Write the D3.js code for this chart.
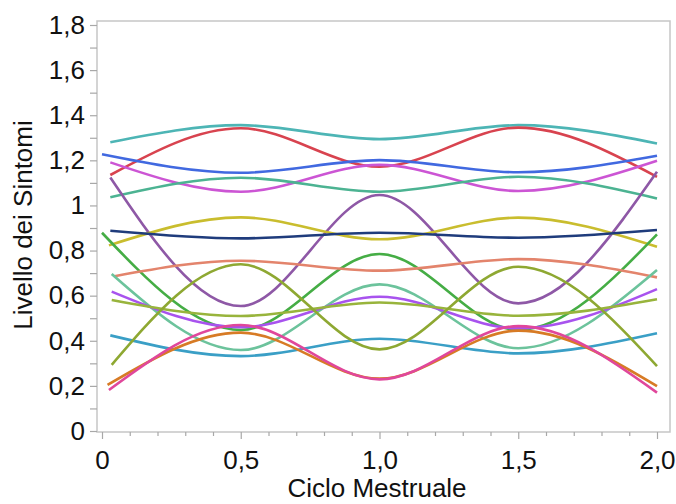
<!DOCTYPE html>
<meta charset="utf-8">

<!-- Load d3.js -->
<script src="https://d3js.org/d3.v7.min.js"></script>

<div id="my_dataviz"></div>

<style>
    body {
        margin: 0;
        background: #ffffff;
        font-family: 'Helvetica', 'Liberation Sans', 'Arial', sans-serif;
    }
</style>

<script>
    // x positions where the values were read (after the start point)
    var cycleX = [0.5, 1.0, 1.5, 2.0];

    // symptom curves: value at start, 0.5, 1.0, 1.5, 2.0
    var teal       = [1.280, 1.356, 1.294, 1.356, 1.275];
    var red        = [1.135, 1.342, 1.172, 1.345, 1.127];
    var blue       = [1.227, 1.145, 1.201, 1.147, 1.220];
    var magenta    = [1.191, 1.061, 1.180, 1.064, 1.198];
    var seaGreen   = [1.036, 1.123, 1.061, 1.127, 1.031];
    var purple     = [1.124, 0.554, 1.046, 0.566, 1.149];
    var yellow     = [0.823, 0.947, 0.850, 0.946, 0.817];
    var navy       = [0.888, 0.854, 0.879, 0.857, 0.891];
    var green      = [0.879, 0.448, 0.785, 0.448, 0.872];
    var salmon     = [0.686, 0.755, 0.711, 0.762, 0.681];
    var mint       = [0.696, 0.359, 0.650, 0.367, 0.714];
    var violet     = [0.618, 0.460, 0.595, 0.455, 0.629];
    var oliveFlat  = [0.581, 0.510, 0.570, 0.511, 0.584];
    var cyan       = [0.424, 0.332, 0.409, 0.344, 0.433];
    var oliveWave  = [0.293, 0.739, 0.362, 0.728, 0.288];
    var orange     = [0.204, 0.436, 0.232, 0.445, 0.199];
    var pink       = [0.182, 0.470, 0.229, 0.465, 0.170];

    var seriesNames  = ["teal", "red", "blue", "magenta", "seaGreen", "purple", "yellow", "navy", "green",
                        "salmon", "mint", "violet", "oliveFlat", "cyan", "oliveWave", "orange", "pink"];
    var seriesValues = [teal, red, blue, magenta, seaGreen, purple, yellow, navy, green,
                        salmon, mint, violet, oliveFlat, cyan, oliveWave, orange, pink];
    // where each curve begins on the x axis
    var startX       = [0.03, 0.03, 0, 0.03, 0.03, 0.03, 0.025, 0.03, 0,
                        0.045, 0.035, 0.035, 0.035, 0.03, 0.035, 0.02, 0.025];
    var seriesColors = ["#4db5b5", "#d8434f", "#4169e0", "#cc55d4", "#4cb392", "#8e58a6", "#c9bd2e", "#1f3c7c", "#45ad45",
                        "#e3846c", "#6cc39c", "#a853ee", "#98b43c", "#3a9fc6", "#8ea832", "#d77b25", "#e0479b"];

    // tick labels (Italian decimal comma)
    var yMajor = [0, 0.2, 0.4, 0.6, 0.8, 1.0, 1.2, 1.4, 1.6, 1.8];
    var yTickLabels = ["0", "0,2", "0,4", "0,6", "0,8", "1", "1,2", "1,4", "1,6", "1,8"];
    var xMajor = [0, 0.5, 1.0, 1.5, 2.0];
    var xTickLabels = ["0", "0,5", "1,0", "1,5", "2,0"];

    var width = 676, height = 504;

    var svg = d3.select("#my_dataviz")
        .append("svg")
        .attr("width", width)
        .attr("height", height);

    // scales
    var x = d3.scaleLinear().domain([0, 2]).range([102, 657]);
    var y = d3.scaleLinear().domain([0, 1.8]).range([431, 25]);

    // frame of the plot
    svg.append("rect")
        .attr("x", 97)
        .attr("y", 21)
        .attr("width", 573)
        .attr("height", 411)
        .attr("fill", "none")
        .attr("stroke", "#c6c6c6")
        .attr("stroke-width", 1.5);

    // minor ticks
    var yMinor = d3.range(1, 18, 2).map(function(i) { return i / 10; });
    var xMinor = d3.range(1, 20).map(function(i) { return i / 10; })
        .filter(function(v) { return xMajor.indexOf(v) < 0; });

    var yMinorAxis = svg.append("g")
        .attr("transform", "translate(97,0)")
        .call(d3.axisLeft(y).tickValues(yMinor).tickSize(7).tickFormat(""));
    var xMinorAxis = svg.append("g")
        .attr("transform", "translate(0,432)")
        .call(d3.axisBottom(x).tickValues(xMinor).tickSize(4).tickFormat(""));

    // major axes
    var yAxis = svg.append("g")
        .attr("transform", "translate(97,0)")
        .call(d3.axisLeft(y).tickValues(yMajor).tickSize(7).tickPadding(5)
            .tickFormat(function(d, i) { return yTickLabels[i]; }));
    var xAxis = svg.append("g")
        .attr("transform", "translate(0,432)")
        .call(d3.axisBottom(x).tickValues(xMajor).tickSize(7).tickPadding(12)
            .tickFormat(function(d, i) { return xTickLabels[i]; }));

    [yMinorAxis, xMinorAxis, yAxis, xAxis].forEach(function(g) {
        g.select(".domain").remove();
        g.selectAll(".tick line").attr("stroke", "#a8a8a8").attr("stroke-width", 1.2);
        g.selectAll(".tick text")
            .attr("fill", "#111")
            .style("font-family", "Helvetica, 'Liberation Sans', Arial, sans-serif")
            .style("font-size", "26px");
    });

    // axis titles
    svg.append("text")
        .attr("x", 377)
        .attr("y", 497)
        .attr("text-anchor", "middle")
        .attr("fill", "#111")
        .style("font-size", "26px")
        .text("Ciclo Mestruale");

    svg.append("text")
        .attr("transform", "translate(32,225) rotate(-90)")
        .attr("text-anchor", "middle")
        .attr("fill", "#111")
        .style("font-size", "26px")
        .text("Livello dei Sintomi");

    // build point lists for each curve
    var curves = seriesValues.map(function(vals, k) {
        var xs = [startX[k]].concat(cycleX);
        return {
            name: seriesNames[k],
            color: seriesColors[k],
            points: vals.map(function(v, i) { return [xs[i], v]; })
        };
    });

    var line = d3.line()
        .x(function(d) { return x(d[0]); })
        .y(function(d) { return y(d[1]); })
        .curve(d3.curveMonotoneX);

    svg.selectAll("path.curve")
        .data(curves)
        .enter()
        .append("path")
        .attr("class", "curve")
        .attr("fill", "none")
        .attr("stroke", function(d) { return d.color; })
        .attr("stroke-width", 2.6)
        .attr("d", function(d) { return line(d.points); });
</script>
